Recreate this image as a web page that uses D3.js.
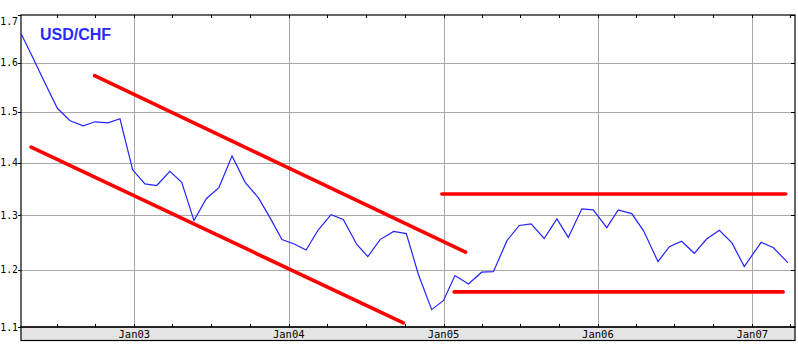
<!DOCTYPE html>
<html>
<head>
<meta charset="utf-8">
<script src="https://cdn.jsdelivr.net/npm/d3@7"></script>
<style>
  body { margin: 0; background: #fff; }
  svg { display: block; }
</style>
</head>
<body>
<svg width="798" height="344"></svg>
<script>
// USD/CHF monthly closes
var dates = [
  "2002-04-08", "2002-05-05", "2002-06-03", "2002-07-03", "2002-08-02", "2002-09-02",
  "2002-09-30", "2002-10-31", "2002-11-28", "2002-12-28", "2003-01-26", "2003-02-23",
  "2003-03-26", "2003-04-23", "2003-05-22", "2003-06-20", "2003-07-20", "2003-08-20",
  "2003-09-20", "2003-10-21", "2003-11-18", "2003-12-16", "2004-01-14", "2004-02-11",
  "2004-03-11", "2004-04-10", "2004-05-09", "2004-06-10", "2004-07-06", "2004-08-04",
  "2004-09-05", "2004-10-05", "2004-11-03", "2004-12-04", "2005-01-01", "2005-01-28",
  "2005-03-01", "2005-04-01", "2005-04-29", "2005-05-31", "2005-06-29", "2005-07-27",
  "2005-08-27", "2005-09-26", "2005-10-23", "2005-11-24", "2005-12-21", "2006-01-22",
  "2006-02-18", "2006-03-22", "2006-04-19", "2006-05-23", "2006-06-19", "2006-07-18",
  "2006-08-17", "2006-09-15", "2006-10-15", "2006-11-14", "2006-12-13", "2007-01-02",
  "2007-01-22", "2007-02-20", "2007-03-26"
];
var usdchf = [
  1.661, 1.612, 1.559, 1.507, 1.482, 1.472,
  1.480, 1.478, 1.486, 1.386, 1.359, 1.356,
  1.383, 1.362, 1.290, 1.331, 1.352, 1.413,
  1.362, 1.333, 1.295, 1.255, 1.247, 1.236,
  1.273, 1.301, 1.292, 1.246, 1.224, 1.255,
  1.270, 1.266, 1.191, 1.130, 1.146, 1.190,
  1.175, 1.196, 1.197, 1.253, 1.281, 1.284,
  1.257, 1.293, 1.259, 1.312, 1.310, 1.277,
  1.310, 1.303, 1.271, 1.215, 1.242, 1.252,
  1.230, 1.256, 1.272, 1.249, 1.206, 1.228,
  1.250, 1.240, 1.213
];

// hand-drawn trend lines: [startDate, startValue, endDate, endValue]
var trendLines = [
  ["2002-09-29", 1.573, "2005-02-22", 1.232],
  ["2002-05-02", 1.430, "2004-09-28", 1.107],
  ["2004-12-28", 1.340, "2007-03-21", 1.340],
  ["2005-01-26", 1.161, "2007-03-15", 1.161]
];

var yTicks = [1.1, 1.2, 1.3, 1.4, 1.5, 1.6, 1.7];
var xDomain = ["2002-04-08", "2007-04-12"];
var title = "USD/CHF";

var parse = d3.timeParse("%Y-%m-%d");

var svg = d3.select("svg"),
  margin = { top: 15, right: 3, bottom: 17, left: 21 },
  width = +svg.attr("width") - margin.left - margin.right,
  height = +svg.attr("height") - margin.top - margin.bottom;

var x = d3.scaleTime().domain(xDomain.map(parse)).range([0, width]),
  y = d3.scaleSqrt().domain([1.1, 1.7]).range([height, 0]);

var g = svg.append("g")
  .attr("transform", "translate(" + margin.left + "," + margin.top + ")");

var years = x.ticks(d3.timeYear.every(1)),
  quarters = x.ticks(d3.timeMonth.every(3));

// date band under the plot
g.append("rect")
  .attr("x", 0).attr("y", height)
  .attr("width", width).attr("height", 13.5)
  .attr("fill", "#e4e4e4")
  .attr("stroke", "#000").attr("stroke-width", 1.2);

// grid
g.append("g").selectAll("line")
  .data(yTicks.slice(1, -1))
  .enter().append("line")
  .attr("x1", 0).attr("x2", width)
  .attr("y1", function (d) { return Math.round(y(d)) + 0.5; })
  .attr("y2", function (d) { return Math.round(y(d)) + 0.5; })
  .attr("stroke", "#a8a8a8");

g.append("g").selectAll("line")
  .data(years)
  .enter().append("line")
  .attr("x1", function (d) { return Math.round(x(d)) + 0.5; })
  .attr("x2", function (d) { return Math.round(x(d)) + 0.5; })
  .attr("y1", 0).attr("y2", height)
  .attr("stroke", "#a8a8a8");

// quarter ticks, bottom and top, pointing inward
g.append("g").selectAll("line")
  .data(quarters)
  .enter().append("line")
  .attr("x1", function (d) { return Math.round(x(d)) + 0.5; })
  .attr("x2", function (d) { return Math.round(x(d)) + 0.5; })
  .attr("y1", height).attr("y2", height - 3)
  .attr("stroke", "#000");

g.append("g").selectAll("line")
  .data(quarters)
  .enter().append("line")
  .attr("x1", function (d) { return Math.round(x(d)) + 0.5; })
  .attr("x2", function (d) { return Math.round(x(d)) + 0.5; })
  .attr("y1", 0).attr("y2", 3)
  .attr("stroke", "#000");

// right side ticks (inward)
g.append("g").selectAll("line")
  .data(yTicks)
  .enter().append("line")
  .attr("x1", width - 4).attr("x2", width)
  .attr("y1", function (d) { return Math.round(y(d)) + 0.5; })
  .attr("y2", function (d) { return Math.round(y(d)) + 0.5; })
  .attr("stroke", "#000");

// left axis ticks (outward) and labels
var yAxis = g.append("g");
yAxis.selectAll("line")
  .data(yTicks)
  .enter().append("line")
  .attr("x1", -3).attr("x2", 0)
  .attr("y1", function (d) { return Math.round(y(d)) + 0.5; })
  .attr("y2", function (d) { return Math.round(y(d)) + 0.5; })
  .attr("stroke", "#000");

yAxis.selectAll("text")
  .data(yTicks)
  .enter().append("text")
  .attr("x", -3)
  .attr("y", function (d) { return Math.max(y(d), 6); })
  .attr("dy", "0.36em")
  .attr("text-anchor", "end")
  .attr("font-family", "'DejaVu Sans Mono', monospace")
  .attr("font-size", "9.8px")
  .attr("fill", "#000")
  .text(d3.format(".1f"));

// x labels
g.append("g").selectAll("text")
  .data(years)
  .enter().append("text")
  .attr("x", function (d) { return x(d); })
  .attr("y", height + 11)
  .attr("text-anchor", "middle")
  .attr("font-family", "'DejaVu Sans Mono', monospace")
  .attr("font-size", "10.5px")
  .attr("fill", "#000")
  .text(d3.timeFormat("%b%y"));

// plot frame
g.append("rect")
  .attr("x", 0).attr("y", 0)
  .attr("width", width).attr("height", height)
  .attr("fill", "none")
  .attr("stroke", "#000").attr("stroke-width", 1.2);

// trend lines
g.append("g").selectAll("line")
  .data(trendLines)
  .enter().append("line")
  .attr("x1", function (d) { return x(parse(d[0])); })
  .attr("y1", function (d) { return y(d[1]); })
  .attr("x2", function (d) { return x(parse(d[2])); })
  .attr("y2", function (d) { return y(d[3]); })
  .attr("stroke", "#ff0000")
  .attr("stroke-width", 3.6)
  .attr("stroke-linecap", "round");

// price line
var series = dates.map(function (d, i) { return { date: parse(d), value: usdchf[i] }; });

g.append("path")
  .datum(series)
  .attr("fill", "none")
  .attr("stroke", "#2323ff")
  .attr("stroke-width", 1.2)
  .attr("d", d3.line()
    .x(function (d) { return x(d.date); })
    .y(function (d) { return y(d.value); }));

g.append("text")
  .attr("x", 19)
  .attr("y", 25)
  .attr("font-family", "'Liberation Sans', Arial, sans-serif")
  .attr("font-weight", "bold")
  .attr("font-size", "16px")
  .attr("fill", "#2a2aff")
  .text(title);
</script>
</body>
</html>
